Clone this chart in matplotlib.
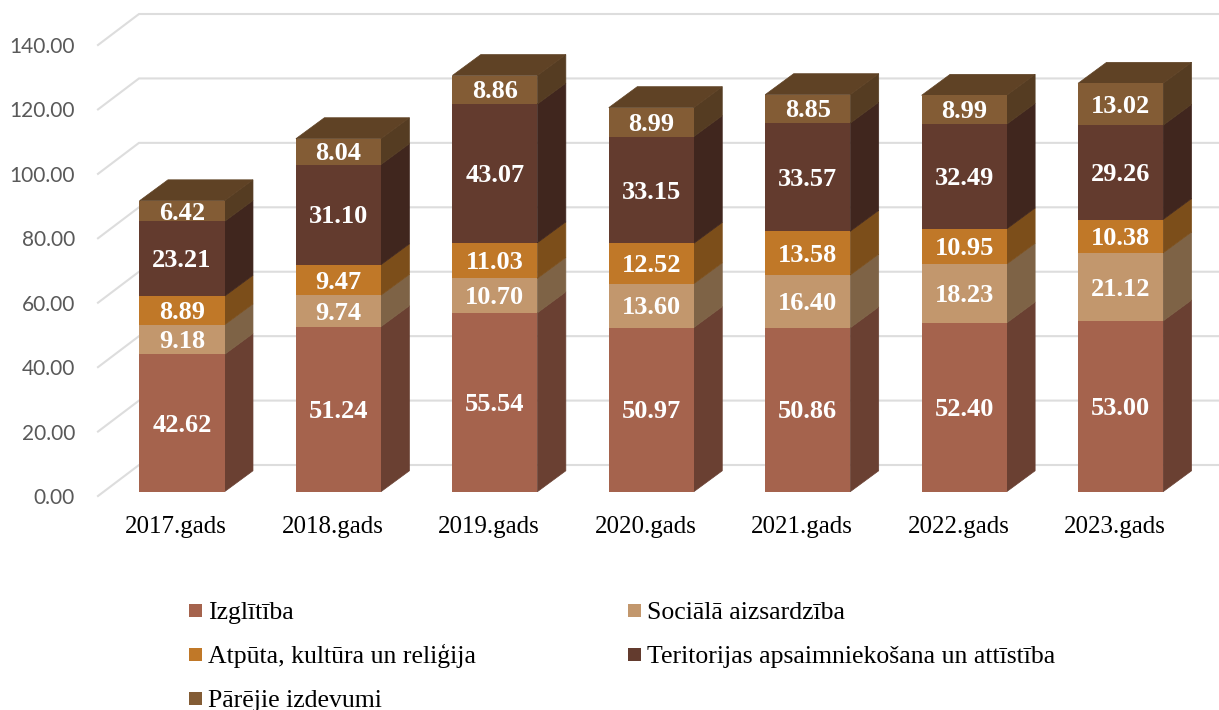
import matplotlib
matplotlib.use("Agg")
import matplotlib.pyplot as plt
from matplotlib.patches import Rectangle

# Data
years = ["2017.gads", "2018.gads", "2019.gads", "2020.gads", "2021.gads", "2022.gads", "2023.gads"]
izglitiba = [42.62, 51.24, 55.54, 50.97, 50.86, 52.40, 53.00]
socialo = [9.18, 9.74, 10.70, 13.60, 16.40, 18.23, 21.12]
atputa = [8.89, 9.47, 11.03, 12.52, 13.58, 10.95, 10.38]
teritorijas = [23.21, 31.10, 43.07, 33.15, 33.57, 32.49, 29.26]
parejie = [6.42, 8.04, 8.86, 8.99, 8.85, 8.99, 13.02]
y_ticks = [0, 20, 40, 60, 80, 100, 120, 140]

names = ["Izglītība", "Sociālā aizsardzība", "Atpūta, kultūra un reliģija",
         "Teritorijas apsaimniekošana un attīstība", "Pārējie izdevumi"]
series = [izglitiba, socialo, atputa, teritorijas, parejie]
front_colors = ["#A5634D", "#C2976D", "#C07828", "#633B2E", "#835C35"]
side_colors = ["#6A4032", "#7E6346", "#7C4E1A", "#40261E", "#553C22"]
top_color = "#5F4225"
grid_color = "#DDDDDD"

W, H = 1219, 710
fig = plt.figure(figsize=(W / 100, H / 100), dpi=100)

# axes = front plane of the 3D chart, measured in pixels
left, right, bottom, top = 98, 1193, 496, 45
ax = fig.add_axes([left / W, 1 - bottom / H, (right - left) / W, (bottom - top) / H])
ax.set_xlim(-0.5, 6.5)
ax.set_ylim(0, 140)
ax.patch.set_visible(False)
for s in ax.spines.values():
    s.set_visible(False)

# depth of the fake 3D, in data units
wall_dx, wall_dy = 0.262, 9.62
bar_dx0, bar_dy0 = 0.037, 1.33
bar_dx, bar_dy = 0.182, 6.5
bar_w = 0.5435

# gridlines: diagonal on the side wall, then along the back wall
for v in y_ticks:
    ax.plot([-0.5, -0.5 + wall_dx, 6.5 + wall_dx], [v, v + wall_dy, v + wall_dy],
            color=grid_color, lw=1.5, clip_on=False, zorder=1, solid_joinstyle="miter")

# stacked bars, bottom segment first
for i in range(len(years)):
    x0 = i + bar_dx0
    xr = x0 + bar_w / 2
    base = bar_dy0
    for k in range(len(series)):
        val = series[k][i]
        ax.fill([xr, xr + bar_dx, xr + bar_dx, xr],
                [base, base + bar_dy, base + val + bar_dy, base + val],
                color=side_colors[k], lw=0.5, zorder=3, clip_on=False)
        ax.bar(x0, val, bar_w, bottom=base, color=front_colors[k], zorder=4, clip_on=False)
        ax.annotate(f"{val:.2f}", (x0, base + val / 2), xytext=(0, -1.5), textcoords="offset points",
                    ha="center", va="center", color="white", fontsize=19, fontweight="bold",
                    family="Liberation Serif", zorder=5)
        base += val
    # top cap
    ax.fill([xr - bar_w, xr, xr + bar_dx, xr - bar_w + bar_dx],
            [base, base, base + bar_dy, base + bar_dy],
            color=top_color, lw=0.5, zorder=3, clip_on=False)

ax.set_yticks(y_ticks)
ax.set_yticklabels([f"{v:.2f}" for v in y_ticks], family="Lato", fontsize=15, color="#595959")
ax.set_xticks(range(len(years)))
ax.set_xticklabels(years, family="Liberation Serif", fontsize=18, color="black")
ax.tick_params(axis="y", length=0, pad=16.5)
ax.tick_params(axis="x", length=0, pad=14.5)

# legend, placed by hand so the rows keep one baseline
legend_cols = [189, 628]
legend_rows = [619, 663, 707]
for k in range(len(names)):
    lx = legend_cols[k % 2]
    ly = legend_rows[k // 2]
    fig.add_artist(Rectangle((lx / W, 1 - (ly - 2) / H), 13 / W, 13 / H,
                             transform=fig.transFigure, color=front_colors[k], lw=0))
    fig.text((lx + 19) / W, 1 - ly / H, names[k], family="Liberation Serif", fontsize=18.5,
             va="baseline", ha="left", color="black")

fig.savefig("out.png", dpi=100)
